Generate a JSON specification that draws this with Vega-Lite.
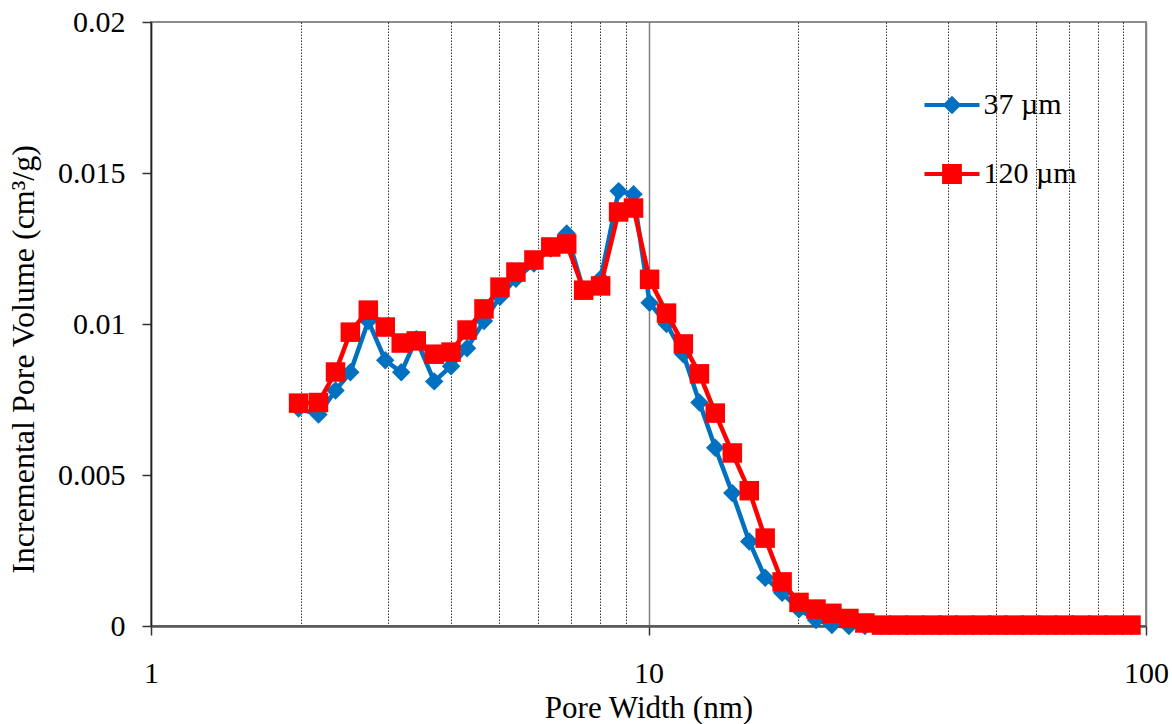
{
  "$schema": "https://vega.github.io/schema/vega-lite/v6.json",
  "width": 995,
  "height": 604,
  "autosize": {"type": "none"},
  "padding": {"left": 151, "top": 22, "right": 26, "bottom": 98},
  "background": "white",
  "config": {
    "font": "Liberation Serif",
    "view": {"stroke": "#8c8c8c", "strokeWidth": 2},
    "axis": {
      "labelFont": "Liberation Serif",
      "titleFont": "Liberation Serif",
      "labelFontSize": 30,
      "titleFontSize": 31,
      "labelColor": "#000000",
      "titleColor": "#000000",
      "titleFontWeight": "normal",
      "tickColor": "#000000",
      "labelOverlap": false,
      "labelFlush": false,
      "labelBound": false
    }
  },
  "datasets": {
    "pores": [
      {"w": 1.980, "s": "37 µm", "v": 0.0072},
      {"w": 2.171, "s": "37 µm", "v": 0.0070},
      {"w": 2.349, "s": "37 µm", "v": 0.0078},
      {"w": 2.516, "s": "37 µm", "v": 0.0084},
      {"w": 2.734, "s": "37 µm", "v": 0.0101},
      {"w": 2.957, "s": "37 µm", "v": 0.0088},
      {"w": 3.184, "s": "37 µm", "v": 0.0084},
      {"w": 3.413, "s": "37 µm", "v": 0.0095},
      {"w": 3.709, "s": "37 µm", "v": 0.0081},
      {"w": 4.010, "s": "37 µm", "v": 0.0086},
      {"w": 4.318, "s": "37 µm", "v": 0.0092},
      {"w": 4.670, "s": "37 µm", "v": 0.0101},
      {"w": 5.029, "s": "37 µm", "v": 0.0109},
      {"w": 5.414, "s": "37 µm", "v": 0.0115},
      {"w": 5.884, "s": "37 µm", "v": 0.0120},
      {"w": 6.362, "s": "37 µm", "v": 0.0125},
      {"w": 6.849, "s": "37 µm", "v": 0.0130},
      {"w": 7.408, "s": "37 µm", "v": 0.0111},
      {"w": 8.013, "s": "37 µm", "v": 0.0115},
      {"w": 8.708, "s": "37 µm", "v": 0.0144},
      {"w": 9.331, "s": "37 µm", "v": 0.0143},
      {"w": 10.05, "s": "37 µm", "v": 0.0107},
      {"w": 10.87, "s": "37 µm", "v": 0.0100},
      {"w": 11.75, "s": "37 µm", "v": 0.0090},
      {"w": 12.66, "s": "37 µm", "v": 0.0074},
      {"w": 13.62, "s": "37 µm", "v": 0.0059},
      {"w": 14.74, "s": "37 µm", "v": 0.0044},
      {"w": 15.94, "s": "37 µm", "v": 0.0028},
      {"w": 17.16, "s": "37 µm", "v": 0.0016},
      {"w": 18.56, "s": "37 µm", "v": 0.0011},
      {"w": 20.07, "s": "37 µm", "v": 0.00055},
      {"w": 21.71, "s": "37 µm", "v": 0.0002},
      {"w": 23.37, "s": "37 µm", "v": 0.00003},
      {"w": 25.28, "s": "37 µm", "v": 0},
      {"w": 27.22, "s": "37 µm", "v": 0},
      {"w": 29.4, "s": "37 µm", "v": 0},
      {"w": 31.8, "s": "37 µm", "v": 0},
      {"w": 34.3, "s": "37 µm", "v": 0},
      {"w": 37.1, "s": "37 µm", "v": 0},
      {"w": 40.0, "s": "37 µm", "v": 0},
      {"w": 43.2, "s": "37 µm", "v": 0},
      {"w": 46.7, "s": "37 µm", "v": 0},
      {"w": 50.4, "s": "37 µm", "v": 0},
      {"w": 54.4, "s": "37 µm", "v": 0},
      {"w": 58.7, "s": "37 µm", "v": 0},
      {"w": 63.4, "s": "37 µm", "v": 0},
      {"w": 68.5, "s": "37 µm", "v": 0},
      {"w": 74.0, "s": "37 µm", "v": 0},
      {"w": 80.0, "s": "37 µm", "v": 0},
      {"w": 86.3, "s": "37 µm", "v": 0},
      {"w": 93.3, "s": "37 µm", "v": 0},
      {"w": 1.980, "s": "120 µm", "v": 0.00738},
      {"w": 2.171, "s": "120 µm", "v": 0.0074},
      {"w": 2.349, "s": "120 µm", "v": 0.00841},
      {"w": 2.516, "s": "120 µm", "v": 0.00973},
      {"w": 2.734, "s": "120 µm", "v": 0.01046},
      {"w": 2.957, "s": "120 µm", "v": 0.0099},
      {"w": 3.184, "s": "120 µm", "v": 0.00937},
      {"w": 3.413, "s": "120 µm", "v": 0.00944},
      {"w": 3.709, "s": "120 µm", "v": 0.0090},
      {"w": 4.010, "s": "120 µm", "v": 0.00907},
      {"w": 4.318, "s": "120 µm", "v": 0.0098},
      {"w": 4.670, "s": "120 µm", "v": 0.0105},
      {"w": 5.029, "s": "120 µm", "v": 0.01122},
      {"w": 5.414, "s": "120 µm", "v": 0.01172},
      {"w": 5.884, "s": "120 µm", "v": 0.01212},
      {"w": 6.362, "s": "120 µm", "v": 0.01255},
      {"w": 6.849, "s": "120 µm", "v": 0.01265},
      {"w": 7.408, "s": "120 µm", "v": 0.01112},
      {"w": 8.013, "s": "120 µm", "v": 0.01126},
      {"w": 8.708, "s": "120 µm", "v": 0.01371},
      {"w": 9.331, "s": "120 µm", "v": 0.01384},
      {"w": 10.05, "s": "120 µm", "v": 0.01148},
      {"w": 10.87, "s": "120 µm", "v": 0.01036},
      {"w": 11.75, "s": "120 µm", "v": 0.00934},
      {"w": 12.66, "s": "120 µm", "v": 0.00835},
      {"w": 13.62, "s": "120 µm", "v": 0.00705},
      {"w": 14.74, "s": "120 µm", "v": 0.00573},
      {"w": 15.94, "s": "120 µm", "v": 0.00448},
      {"w": 17.16, "s": "120 µm", "v": 0.00291},
      {"w": 18.56, "s": "120 µm", "v": 0.00146},
      {"w": 20.07, "s": "120 µm", "v": 0.00078},
      {"w": 21.71, "s": "120 µm", "v": 0.00056},
      {"w": 23.37, "s": "120 µm", "v": 0.00042},
      {"w": 25.28, "s": "120 µm", "v": 0.00025},
      {"w": 27.22, "s": "120 µm", "v": 0.0001},
      {"w": 29.4, "s": "120 µm", "v": 0.00003},
      {"w": 31.8, "s": "120 µm", "v": 0.00003},
      {"w": 34.3, "s": "120 µm", "v": 0.00003},
      {"w": 37.1, "s": "120 µm", "v": 0.00003},
      {"w": 40.0, "s": "120 µm", "v": 0.00003},
      {"w": 43.2, "s": "120 µm", "v": 0.00003},
      {"w": 46.7, "s": "120 µm", "v": 0.00003},
      {"w": 50.4, "s": "120 µm", "v": 0.00003},
      {"w": 54.4, "s": "120 µm", "v": 0.00003},
      {"w": 58.7, "s": "120 µm", "v": 0.00003},
      {"w": 63.4, "s": "120 µm", "v": 0.00003},
      {"w": 68.5, "s": "120 µm", "v": 0.00003},
      {"w": 74.0, "s": "120 µm", "v": 0.00003},
      {"w": 80.0, "s": "120 µm", "v": 0.00003},
      {"w": 86.3, "s": "120 µm", "v": 0.00003},
      {"w": 93.3, "s": "120 µm", "v": 0.00003}
    ]
  },
  "data": {"name": "pores"},
  "encoding": {
    "x": {
      "field": "w",
      "type": "quantitative",
      "title": "Pore Width (nm)",
      "scale": {"type": "log", "domain": [1, 100]},
      "axis": {
        "values": [1, 2, 3, 4, 5, 6, 7, 8, 9, 10, 20, 30, 40, 50, 60, 70, 80, 90, 100],
        "grid": true,
        "gridColor": {"condition": {"test": "datum.value == 1 || datum.value == 10 || datum.value == 100", "value": "#808080"}, "value": "#000000"},
        "gridDash": {"condition": {"test": "datum.value == 1 || datum.value == 10 || datum.value == 100", "value": []}, "value": [1.5, 1.5]},
        "gridWidth": {"condition": {"test": "datum.value == 1 || datum.value == 10 || datum.value == 100", "value": 1.5}, "value": 0.8},
        "tickSize": {"condition": {"test": "datum.value == 1 || datum.value == 10 || datum.value == 100", "value": 9}, "value": 0},
        "tickColor": "#333333",
        "tickWidth": 1.5,
        "labelExpr": "datum.value == 1 || datum.value == 10 || datum.value == 100 ? format(datum.value, 'd') : ''",
        "labelPadding": 23,
        "titlePadding": 5,
        "domainColor": "#555555",
        "domainWidth": 2.5
      }
    },
    "y": {
      "field": "v",
      "type": "quantitative",
      "title": "Incremental Pore Volume (cm³/g)",
      "scale": {"domain": [0, 0.02]},
      "axis": {
        "values": [0, 0.005, 0.01, 0.015, 0.02],
        "format": "~g",
        "grid": false,
        "tickSize": 9,
        "tickWidth": 1.5,
        "tickColor": "#333333",
        "labelPadding": 17,
        "titleFontSize": 32,
        "titlePadding": 17,
        "titleY": 337,
        "domainColor": "#222222",
        "domainWidth": 1.5
      }
    }
  },
  "layer": [
    {
      "transform": [{"filter": "datum.s == '37 µm'"}],
      "mark": {"type": "line", "color": "#0070C0", "strokeWidth": 4.5}
    },
    {
      "transform": [{"filter": "datum.s == '37 µm'"}],
      "mark": {"type": "point", "filled": true, "opacity": 1, "size": 340, "shape": "diamond", "color": "#0070C0"}
    },
    {
      "transform": [{"filter": "datum.s == '120 µm'"}],
      "mark": {"type": "line", "color": "#FF0000", "strokeWidth": 4.5}
    },
    {
      "transform": [{"filter": "datum.s == '120 µm'"}],
      "mark": {"type": "square", "filled": true, "opacity": 1, "size": 380, "color": "#FF0000"}
    },
    {
      "mark": {"type": "point", "filled": true, "opacity": 0, "size": 3025},
      "encoding": {
        "color": {
          "field": "s",
          "type": "nominal",
          "scale": {"domain": ["37 µm", "120 µm"], "range": ["#0070C0", "#FF0000"]},
          "legend": {
            "title": null,
            "orient": "none",
            "legendX": 773.5,
            "legendY": 55.5,
            "padding": 0,
            "rowPadding": 26,
            "symbolSize": 3025,
            "symbolStrokeWidth": 0,
            "symbolOpacity": 1,
            "labelFont": "Liberation Serif",
            "labelFontSize": 30,
            "labelColor": "#000000",
            "labelOffset": 4
          }
        },
        "shape": {
          "field": "s",
          "type": "nominal",
          "scale": {
            "domain": ["37 µm", "120 µm"],
            "range": [
              "M-1,-0.075 L1,-0.075 L1,0.075 L-1,0.075 Z M0,-0.34 L0.34,0 L0,0.34 L-0.34,0 Z",
              "M-1,-0.075 L1,-0.075 L1,0.075 L-1,0.075 Z M-0.36,-0.36 L0.36,-0.36 L0.36,0.36 L-0.36,0.36 Z"
            ]
          },
          "legend": {
            "title": null,
            "orient": "none",
            "legendX": 773.5,
            "legendY": 55.5,
            "padding": 0,
            "rowPadding": 26,
            "symbolSize": 3025,
            "symbolStrokeWidth": 0,
            "symbolOpacity": 1,
            "labelFont": "Liberation Serif",
            "labelFontSize": 30,
            "labelColor": "#000000",
            "labelOffset": 4
          }
        }
      }
    }
  ]
}
